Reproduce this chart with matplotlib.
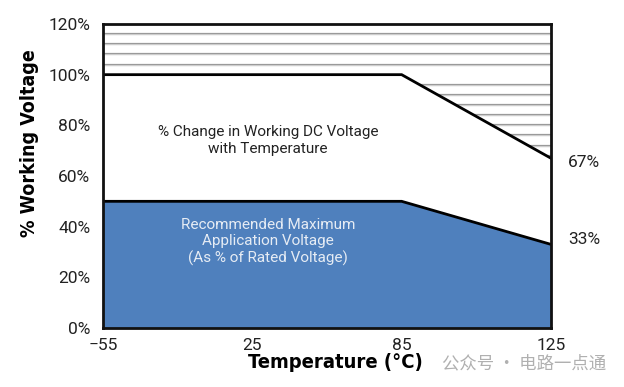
import matplotlib
matplotlib.use("Agg")
import matplotlib.pyplot as plt
import numpy as np

# Data
temp_labels = ["\u221255", "25", "85", "125"]
temp_pos = [0, 1, 2, 3]
working_pct = [100, 100, 100, 67]      # % change in working DC voltage
recommended_pct = [50, 50, 50, 33]     # recommended max application voltage
y_ticks = [0, 20, 40, 60, 80, 100, 120]
hatch_levels = [68, 72, 76, 80, 84, 88, 92, 96, 104, 108, 112, 116]

fig = plt.figure(figsize=(6.24, 3.87), dpi=100)
ax = fig.add_axes([0.165, 0.1525, 0.718, 0.7855])
ax.set_xlim(0, 3)
ax.set_ylim(0, 120)

blue = "#4f80bd"
# blue region
ax.fill_between(temp_pos, 0, recommended_pct, color=blue, zorder=1, lw=0)

# hatched region above working curve
poly = ax.fill_between(temp_pos, working_pct, 120, color="none", lw=0, zorder=1)
clip = poly.get_paths()[0]
for lv in hatch_levels:
    l1 = ax.axhline(lv, color="#9a9a9a", lw=1.6, zorder=1.2)
    l1.set_clip_path(clip, ax.transData)
    l2 = ax.axhline(lv, color="#d8d8d8", lw=0.6, zorder=1.3)
    l2.set_clip_path(clip, ax.transData)

# outlines
ax.plot(temp_pos, working_pct, color="black", lw=2, zorder=3, solid_joinstyle="miter")
ax.plot(temp_pos, recommended_pct, color="black", lw=2, zorder=3, solid_joinstyle="miter")

for s in ax.spines.values():
    s.set_linewidth(2)
    s.set_color("#111111")
    s.set_zorder(4)

ax.set_xticks(temp_pos)
ax.set_xticklabels(temp_labels, fontsize=12.5, family="Roboto", color="#222222")
ax.set_yticks(y_ticks)
ax.set_yticklabels([f"{v}%" for v in y_ticks], fontsize=12.5, family="Roboto", color="#222222")
ax.tick_params(length=0, pad=9)
ax.tick_params(axis="x", pad=7)

ax.set_xlabel("Temperature (\u00b0C)", fontsize=14.5, fontweight="bold", family="DejaVu Sans",
              fontstretch="condensed", va="center")
ax.xaxis.set_label_coords(0.518, -0.115)
ax.set_ylabel("% Working Voltage", fontsize=14, fontweight="bold",
              family="DejaVu Sans", fontstretch="condensed", va="center")
ax.yaxis.set_label_coords(-0.163, 0.609)

# right-side labels
ax.text(3.22, working_pct[-1] - 1.5, f"{working_pct[-1]}%", fontsize=12.5, family="Roboto",
        color="#222222", ha="center", va="center", clip_on=False)
ax.text(3.22, recommended_pct[-1] + 2, f"{recommended_pct[-1]}%", fontsize=12.5, family="Roboto",
        color="#222222", ha="center", va="center", clip_on=False)

ax.text(1.105, 74, "% Change in Working DC Voltage\nwith Temperature", fontsize=11,
        family="Roboto", color="#222222", ha="center", va="center", linespacing=1.2, zorder=5)
ax.text(1.105, 34, "Recommended Maximum\nApplication Voltage\n(As % of Rated Voltage)",
        fontsize=11, family="Roboto", color="#e6ecf4", ha="center", va="center",
        linespacing=1.2, zorder=5)

fig.text(0.84, 0.062, "公众号 · 电路一点通", fontsize=12.5, color="#b0b0b0",
         family=["Noto Sans CJK SC", "DejaVu Sans"], ha="center", va="center")

fig.savefig("out.png", dpi=100)
